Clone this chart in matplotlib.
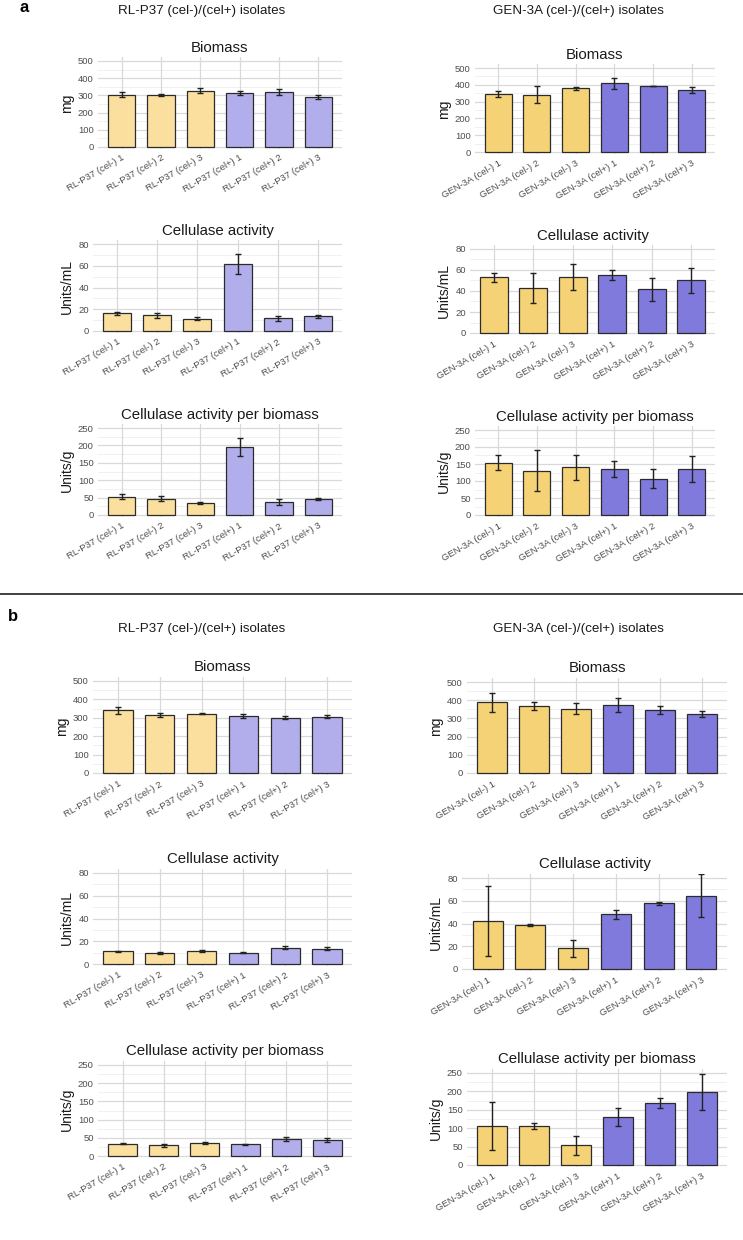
import numpy as np
import matplotlib
matplotlib.use("Agg")
import matplotlib.pyplot as plt
from matplotlib.lines import Line2D

plt.rcParams['font.family'] = ['Liberation Sans', 'DejaVu Sans']

# ---- data ----
rl_labels = ["RL-P37 (cel-) 1", "RL-P37 (cel-) 2", "RL-P37 (cel-) 3",
             "RL-P37 (cel+) 1", "RL-P37 (cel+) 2", "RL-P37 (cel+) 3"]
gen_labels = ["GEN-3A (cel-) 1", "GEN-3A (cel-) 2", "GEN-3A (cel-) 3",
              "GEN-3A (cel+) 1", "GEN-3A (cel+) 2", "GEN-3A (cel+) 3"]
groups = ["cel-", "cel-", "cel-", "cel+", "cel+", "cel+"]

# panel a
a_rl_biomass = [304, 302, 328, 316, 320, 291]
a_rl_biomass_err = [16, 8, 14, 11, 18, 12]
a_gen_biomass = [345, 341, 378, 408, 392, 371]
a_gen_biomass_err = [18, 50, 6, 35, 2, 17]
a_rl_cell = [16.2, 14.3, 11.3, 61.2, 11.6, 13.5]
a_rl_cell_err = [1.6, 2.6, 1.4, 9.2, 2.0, 1.4]
a_gen_cell = [53, 43, 53, 55, 41.5, 50]
a_gen_cell_err = [4, 14, 12.5, 5, 11, 11.5]
a_rl_perbio = [53, 47, 35, 195, 37, 46]
a_rl_perbio_err = [6, 7, 3, 26, 8, 2]
a_gen_perbio = [154, 130, 140, 136, 106, 136]
a_gen_perbio_err = [21, 60, 37, 24, 28, 38]

# panel b
b_rl_biomass = [340, 316, 323, 311, 301, 307]
b_rl_biomass_err = [20, 11, 5, 10, 10, 6]
b_gen_biomass = [388, 370, 353, 373, 346, 324]
b_gen_biomass_err = [54, 22, 30, 38, 20, 17]
b_rl_cell = [11.2, 9.4, 11.6, 10.1, 14.1, 13.6]
b_rl_cell_err = [0.6, 1.0, 0.8, 0.5, 1.3, 1.2]
b_gen_cell = [42.2, 38.8, 18.2, 48.2, 57.7, 64.5]
b_gen_cell_err = [31, 1.0, 7.5, 4, 1.0, 19]
b_rl_perbio = [34, 30, 36, 32, 47, 44]
b_rl_perbio_err = [2, 4, 2, 1, 5, 5]
b_gen_perbio = [105, 107, 53, 131, 168, 198]
b_gen_perbio_err = [65, 8, 27, 25, 14, 48]

light_colors = {"cel-": "#FADF9E", "cel+": "#B1AEEB"}
dark_colors = {"cel-": "#F6D277", "cel+": "#807ADC"}

W, H = 743, 1240
fig = plt.figure(figsize=(W / 100, H / 100), dpi=100)


def make_axes(x0, x1, y_zero, y_top, top):
    # pixel coordinates of the plotting area -> figure fraction
    lo, hi = -0.025 * top, 1.045 * top
    s = (y_zero - y_top) / top
    bot_px = y_zero - lo * s
    top_px = y_zero - hi * s
    ax = fig.add_axes([x0 / W, 1 - bot_px / H, (x1 - x0) / W, (bot_px - top_px) / H])
    ax.set_ylim(lo, hi)
    return ax


def bar_panel(ax, labels, vals, errs, colors, title, ylabel, top, step):
    x = np.arange(len(labels))
    ax.set_xlim(-0.6, len(labels) - 0.4)
    for t in np.arange(0, top + 1e-9, step):
        ax.axhline(t, color="#D9D9D9", lw=0.9, zorder=0)
    for t in np.arange(step / 2, top, step):
        ax.axhline(t, color="#EEEEEE", lw=0.6, zorder=0)
    for xi in x:
        ax.axvline(xi, color="#D9D9D9", lw=0.9, zorder=0)
    ax.bar(x, vals, width=0.7, color=[colors[g] for g in groups],
           edgecolor="#2b2b2b", linewidth=0.9, zorder=2)
    ax.errorbar(x, vals, yerr=errs, fmt="none", ecolor="#222222",
                elinewidth=1.0, capsize=2.4, capthick=1.0, zorder=3)
    ax.set_yticks(np.arange(0, top + 1e-9, step))
    ax.set_xticks(x)
    ax.set_xticklabels(labels, rotation=30, ha="right", rotation_mode="anchor")
    ax.tick_params(length=0, labelsize=6.8, labelcolor="#4D4D4D", pad=3)
    for sp in ax.spines.values():
        sp.set_visible(False)
    ax.set_title(title, fontsize=10.8, color="#1a1a1a", pad=4)
    ax.set_ylabel(ylabel, fontsize=10, color="#1a1a1a", labelpad=3)


specs = [
    # (x0, x1, y_zero, y_top, labels, vals, errs, colors, title, ylabel, top, step)
    # panel a
    (98, 342, 147, 61, rl_labels, a_rl_biomass, a_rl_biomass_err, light_colors, "Biomass", "mg", 500, 100),
    (475, 715, 152, 68, gen_labels, a_gen_biomass, a_gen_biomass_err, dark_colors, "Biomass", "mg", 500, 100),
    (93, 342, 331, 244, rl_labels, a_rl_cell, a_rl_cell_err, light_colors, "Cellulase activity", "Units/mL", 80, 20),
    (470, 715, 333, 249, gen_labels, a_gen_cell, a_gen_cell_err, dark_colors, "Cellulase activity", "Units/mL", 80, 20),
    (98, 342, 515, 428, rl_labels, a_rl_perbio, a_rl_perbio_err, light_colors, "Cellulase activity per biomass", "Units/g", 250, 50),
    (475, 715, 515, 430, gen_labels, a_gen_perbio, a_gen_perbio_err, dark_colors, "Cellulase activity per biomass", "Units/g", 250, 50),
    # panel b
    (93, 352, 773, 681, rl_labels, b_rl_biomass, b_rl_biomass_err, light_colors, "Biomass", "mg", 500, 100),
    (467, 727, 773, 682, gen_labels, b_gen_biomass, b_gen_biomass_err, dark_colors, "Biomass", "mg", 500, 100),
    (93, 352, 964, 873, rl_labels, b_rl_cell, b_rl_cell_err, light_colors, "Cellulase activity", "Units/mL", 80, 20),
    (462, 727, 969, 878, gen_labels, b_gen_cell, b_gen_cell_err, dark_colors, "Cellulase activity", "Units/mL", 80, 20),
    (98, 352, 1156, 1065, rl_labels, b_rl_perbio, b_rl_perbio_err, light_colors, "Cellulase activity per biomass", "Units/g", 250, 50),
    (467, 727, 1165, 1073, gen_labels, b_gen_perbio, b_gen_perbio_err, dark_colors, "Cellulase activity per biomass", "Units/g", 250, 50),
]

for x0, x1, yz, yt, labs, v, e, cols, title, ylab, top, step in specs:
    ax = make_axes(x0, x1, yz, yt, top)
    bar_panel(ax, labs, v, e, cols, title, ylab, top, step)

# column headers and panel letters
for y_px in (11, 629):
    fig.text(202 / W, 1 - y_px / H, "RL-P37 (cel-)/(cel+) isolates", ha="center", va="center",
             fontsize=9.6, color="#1a1a1a")
    fig.text(578 / W, 1 - y_px / H, "GEN-3A (cel-)/(cel+) isolates", ha="center", va="center",
             fontsize=9.6, color="#1a1a1a")
fig.text(20 / W, 1 - 8 / H, "a", ha="left", va="center", fontsize=12, fontweight="bold")
fig.text(8 / W, 1 - 616 / H, "b", ha="left", va="center", fontsize=12, fontweight="bold")

fig.add_artist(Line2D([0, 1], [1 - 594 / H, 1 - 594 / H], transform=fig.transFigure,
                      color="#333333", lw=1.3))

fig.savefig("out.png", dpi=100, facecolor="white")
